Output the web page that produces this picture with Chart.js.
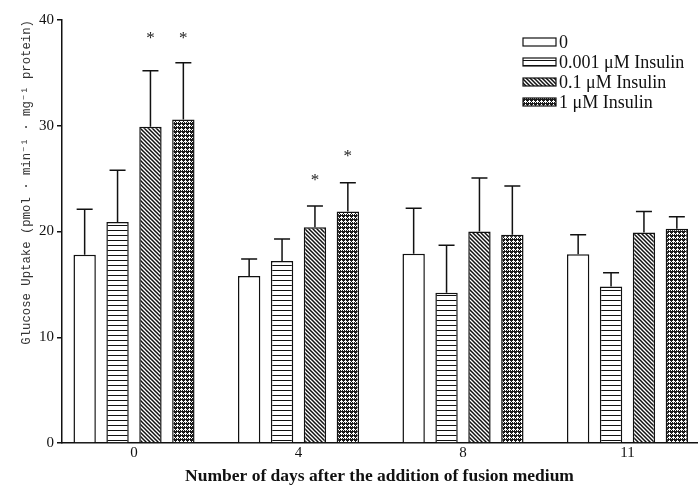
<!DOCTYPE html>
<html>
<head>
<meta charset="utf-8">
<script src="https://cdn.jsdelivr.net/npm/chart.js@4.4.0/dist/chart.umd.min.js"></script>
<style>
  body { margin: 0; background: #fff; }
</style>
</head>
<body>
<canvas id="myChart" width="699" height="487"></canvas>
<script>
// data
const days = ['0', '4', '8', '11'];
const seriesNames = ['0', '0.001 \u03bcM Insulin', '0.1 \u03bcM Insulin', '1 \u03bcM Insulin'];

const ctrl   = [17.8, 15.8, 17.9, 17.85];
const ins001 = [20.9, 17.2, 14.2, 14.8];
const ins01  = [29.9, 20.4, 20.0, 19.9];
const ins1   = [30.6, 21.9, 19.7, 20.25];

// upper error bars (SEM)
const errCtrl = [4.3, 1.6, 4.3, 1.85];
const err001  = [4.9, 2.1, 4.5, 1.3];
const err01   = [5.3, 2.0, 5.05, 2.0];
const err1    = [5.35, 2.7, 4.6, 1.15];

// height of the significance star, null = none
const star01 = [38.3, 24.9, null, null];
const star1  = [38.3, 27.1, null, null];

const ink = '#111';
const serif = "'Liberation Serif', 'Times New Roman', serif";

function makePattern(kind) {
    let c = document.createElement('canvas');
    let g = c.getContext('2d');
    if (kind == 'plain') {
        return '#fff';
    }
    if (kind == 'hlines') {
        c.width = 4; c.height = 5;
        g.fillStyle = '#fff'; g.fillRect(0, 0, 4, 5);
        g.fillStyle = ink; g.fillRect(0, 0, 4, 1);
    }
    if (kind == 'diag') {
        let s = 4;
        c.width = s; c.height = s;
        g.fillStyle = '#fff'; g.fillRect(0, 0, s, s);
        g.strokeStyle = ink; g.lineWidth = 1.5;
        g.beginPath();
        g.moveTo(-1, -1); g.lineTo(s + 1, s + 1);
        g.moveTo(s - 1, -1); g.lineTo(s + 1, 1);
        g.moveTo(-1, s - 1); g.lineTo(1, s + 1);
        g.stroke();
    }
    if (kind == 'check') {
        c.width = 4; c.height = 4;
        g.fillStyle = '#1a1a1a'; g.fillRect(0, 0, 4, 4);
        g.fillStyle = '#fff';
        g.fillRect(1, 0, 1, 3);
        g.fillRect(0, 1, 3, 1);
        g.fillRect(3, 2, 1, 1);
    }
    return g.createPattern(c, 'repeat');
}

const fills = [makePattern('plain'), makePattern('hlines'), makePattern('diag'), makePattern('check')];
const values = [ctrl, ins001, ins01, ins1];
const errors = [errCtrl, err001, err01, err1];
const stars = [null, null, star01, star1];

let datasets = [];
for (let i = 0; i < values.length; i++) {
    datasets.push({
        label: seriesNames[i],
        data: values[i].map((v, j) => ({x: j, y: v})),
        backgroundColor: fills[i],
        borderColor: ink,
        borderWidth: 1.5,
        barPercentage: 0.68,
        categoryPercentage: 0.8
    });
}

// error bars + stars
const errorBarPlugin = {
    id: 'errorBars',
    afterDatasetsDraw(chart) {
        let ctx = chart.ctx;
        let yScale = chart.scales.y;
        ctx.save();
        ctx.strokeStyle = ink;
        ctx.lineWidth = 1.5;
        for (let i = 0; i < chart.data.datasets.length; i++) {
            let meta = chart.getDatasetMeta(i);
            meta.data.forEach((bar, j) => {
                let top = yScale.getPixelForValue(values[i][j] + errors[i][j]);
                ctx.beginPath();
                ctx.moveTo(bar.x, bar.y);
                ctx.lineTo(bar.x, top);
                ctx.moveTo(bar.x - 8, top);
                ctx.lineTo(bar.x + 8, top);
                ctx.stroke();
                if (stars[i] && stars[i][j] != null) {
                    let py = yScale.getPixelForValue(stars[i][j]);
                    ctx.fillStyle = '#222';
                    ctx.font = '17px ' + serif;
                    ctx.textAlign = 'center';
                    ctx.textBaseline = 'alphabetic';
                    ctx.fillText('*', bar.x, py + 5);
                }
            });
        }
        ctx.restore();
    }
};

// legend drawn inside the plot, top right
const boxLegendPlugin = {
    id: 'boxLegend',
    afterDraw(chart) {
        let ctx = chart.ctx;
        ctx.save();
        ctx.font = '18px ' + serif;
        ctx.textBaseline = 'middle';
        ctx.textAlign = 'left';
        for (let i = 0; i < seriesNames.length; i++) {
            let y = 42 + i * 20;
            ctx.fillStyle = fills[i];
            ctx.fillRect(523, y - 4, 33, 8);
            ctx.strokeStyle = ink;
            ctx.lineWidth = 1.2;
            ctx.strokeRect(523, y - 4, 33, 8);
            ctx.fillStyle = '#111';
            ctx.fillText(seriesNames[i], 559, y + 1);
        }
        ctx.restore();
    }
};

let myChart = document.getElementById('myChart').getContext('2d');
let uptakeChart = new Chart(myChart, {
    type: 'bar',
    data: { datasets: datasets },
    plugins: [errorBarPlugin, boxLegendPlugin],
    options: {
        responsive: false,
        animation: false,
        layout: { padding: { top: 20, right: 2, left: 0, bottom: 0 } },
        plugins: {
            legend: { display: false },
            tooltip: { enabled: false }
        },
        scales: {
            x: {
                type: 'linear',
                min: -0.4377,
                max: 3.4225,
                offset: false,
                grid: { display: false, offset: false, drawTicks: false, tickLength: 0 },
                border: { display: true, color: ink, width: 1.5 },
                afterBuildTicks: (scale) => {
                    scale.ticks = days.map((d, i) => ({ value: i }));
                },
                afterFit: (scale) => { scale.height = 44; },
                ticks: {
                    font: { family: serif, size: 15 },
                    color: '#111',
                    padding: 1,
                    callback: (v) => days[v]
                },
                title: {
                    display: true,
                    text: 'Number of days after the addition of fusion medium',
                    font: { family: serif, size: 17.5, weight: 'bold' },
                    color: '#111',
                    padding: { top: 0, bottom: 0 }
                }
            },
            y: {
                min: 0,
                max: 40,
                afterFit: (scale) => { scale.width = 62; },
                grid: { drawOnChartArea: false, drawTicks: true, tickLength: 5, color: ink, lineWidth: 1.5 },
                border: { display: true, color: ink, width: 1.5 },
                ticks: {
                    stepSize: 10,
                    font: { family: serif, size: 15 },
                    color: '#111',
                    padding: 3
                },
                title: {
                    display: true,
                    align: 'end',
                    text: 'Glucose Uptake (pmol \u00b7 min\u207b\u00b9 \u00b7 mg\u207b\u00b9 protein)',
                    font: { family: "'Liberation Mono', 'DejaVu Sans Mono', monospace", size: 12.3 },
                    color: '#333',
                    padding: { top: 19, bottom: 0 }
                }
            }
        }
    }
});
</script>
</body>
</html>
